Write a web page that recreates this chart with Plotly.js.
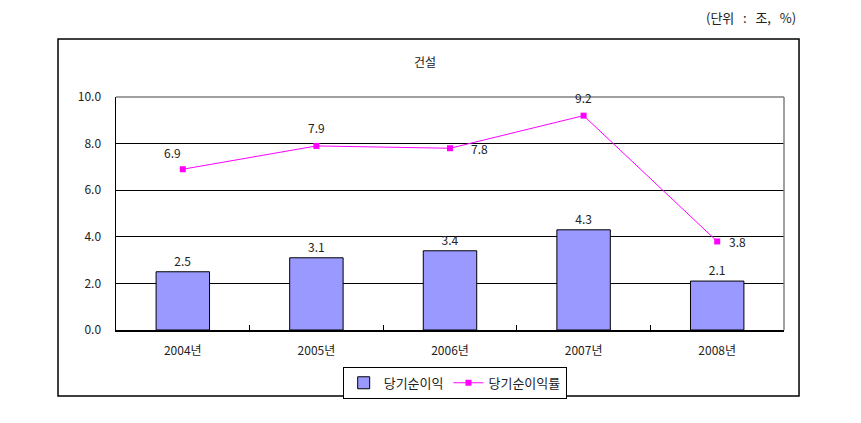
<!DOCTYPE html>
<html>
<head>
<meta charset="utf-8">
<script src="https://cdn.plot.ly/plotly-3.0.1.min.js"></script>
<style>html,body{margin:0;padding:0;background:#fff;}#chart{width:861px;height:423px;}</style>
</head>
<body>
<div id="chart"></div>
<script>
var categories = ["2004년", "2005년", "2006년", "2007년", "2008년"];
var netIncome = [2.5, 3.1, 3.4, 4.3, 2.1];
var netIncomeRate = [6.9, 7.9, 7.8, 9.2, 3.8];
var yTicks = [0, 2, 4, 6, 8, 10];

var FONT = '"Noto Sans CJK KR", "Noto Sans", sans-serif';
var TXT = '#222222';

// label offsets (style only) for rate labels
var rateOffsets = [[-10, 17], [0, 18], [29, 0], [0, 18], [20, 0]];

var bar = {
  type: 'bar', name: '당기순이익', x: categories, y: netIncome,
  width: 0.4,
  marker: {color: '#9999FF', line: {color: '#000000', width: 1}},
  text: netIncome.map(function(v){return v.toFixed(1);}),
  textposition: 'outside', cliponaxis: false,
  textfont: {family: FONT, size: 12, color: TXT},
  hoverinfo: 'none'
};
var line = {
  type: 'scatter', mode: 'lines+markers', name: '당기순이익률', x: categories, y: netIncomeRate,
  line: {color: '#FF00FF', width: 1},
  marker: {symbol: 'square', size: 6, color: '#FF00FF'},
  cliponaxis: false, hoverinfo: 'none'
};

var annotations = netIncomeRate.map(function(v, i){
  return {x: categories[i], y: v, xref: 'x', yref: 'y', text: v.toFixed(1), showarrow: false,
    xshift: rateOffsets[i][0], yshift: rateOffsets[i][1],
    font: {family: FONT, size: 12, color: TXT}};
});
annotations.push({xref: 'paper', yref: 'paper', x: 0.463, y: 1.154, yanchor: 'middle', text: '건설', showarrow: false,
  font: {family: FONT, size: 12, color: TXT}});
annotations.push({xref: 'paper', yref: 'paper', x: 1.021, xanchor: 'right', y: 1.343, yanchor: 'middle',
  text: '(단위&nbsp;&nbsp;&nbsp;:&nbsp;&nbsp;&nbsp;조,&nbsp;&nbsp;&nbsp;%)', showarrow: false,
  font: {family: FONT, size: 13, color: TXT}});

var shapes = [
  {type: 'rect', xref: 'paper', yref: 'paper', x0: -0.0868, x1: 1.0225, y0: -0.283, y1: 1.249,
   line: {color: '#000000', width: 1.5}, fillcolor: 'rgba(0,0,0,0)', layer: 'below'},
  {type: 'line', xref: 'paper', yref: 'paper', x0: 0, x1: 1, y0: 1, y1: 1, line: {color: '#808080', width: 1.5}},
  {type: 'line', xref: 'paper', yref: 'paper', x0: 1, x1: 1, y0: 0, y1: 1, line: {color: '#808080', width: 1.5}}
];

var layout = {
  width: 861, height: 423,
  margin: {l: 116, r: 77, t: 97, b: 93},
  paper_bgcolor: '#ffffff', plot_bgcolor: '#ffffff',
  font: {family: FONT, size: 12, color: TXT},
  showlegend: true,
  legend: {orientation: 'h', x: 0.507, xanchor: 'center', y: -0.158, yanchor: 'top',
    bordercolor: '#000000', borderwidth: 1, font: {family: FONT, size: 13, color: TXT},
    traceorder: 'normal', itemwidth: 30, tracegroupgap: 0},
  xaxis: {type: 'category', tickson: 'boundaries', ticks: 'inside', ticklen: 5, tickcolor: '#000',
    showline: true, linecolor: '#000', linewidth: 1.5, showgrid: false, fixedrange: true,
    ticklabelstandoff: 9,
    tickfont: {family: FONT, size: 12, color: TXT}},
  yaxis: {range: [0, 10], tickvals: yTicks, ticktext: yTicks.map(function(v){return v.toFixed(1);}),
    ticks: 'inside', ticklen: 5, tickcolor: '#000', showline: true, linecolor: '#000', linewidth: 1.5,
    showgrid: true, gridcolor: '#000000', gridwidth: 1, zeroline: false, ticklabelstandoff: 11,
    tickfont: {family: FONT, size: 12, color: TXT}, fixedrange: true},
  bargap: 0.6,
  annotations: annotations,
  shapes: shapes
};

Plotly.newPlot('chart', [bar, line], layout, {displayModeBar: false, staticPlot: true});
</script>
</body>
</html>
